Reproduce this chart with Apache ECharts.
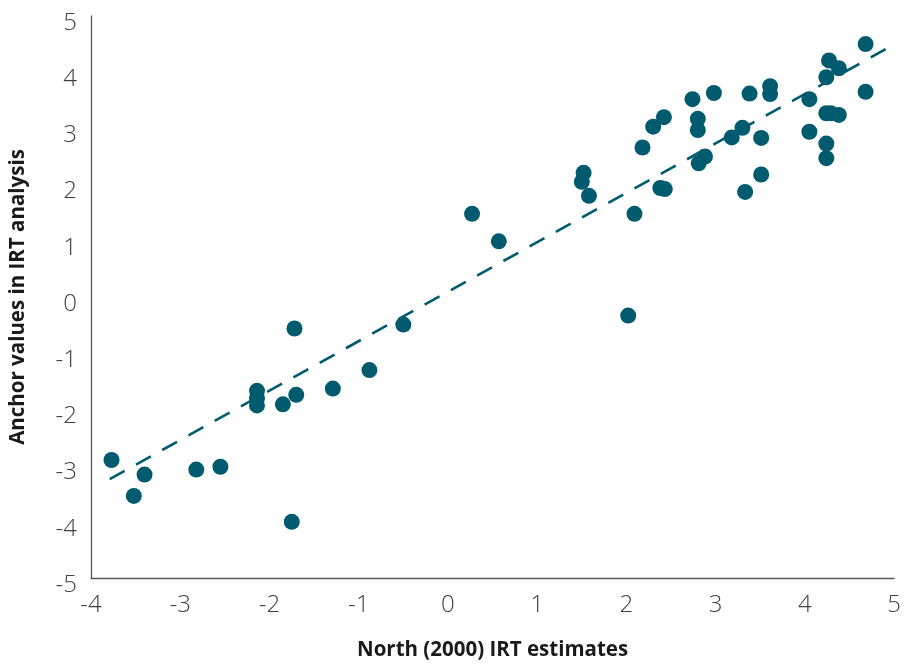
<!DOCTYPE html>
<html>
<head>
<meta charset="utf-8">
<script src="https://cdn.jsdelivr.net/npm/echarts@6/dist/echarts.min.js"></script>
<style>
  html, body { margin: 0; padding: 0; background: #ffffff; }
  #chart { width: 904px; height: 668px; }
</style>
</head>
<body>
<div id="chart"></div>
<script>
// North (2000) IRT estimates (x) against anchor values from the IRT analysis (y)
const northEstimates = [
  -3.77, -3.52, -3.40, -2.82, -2.55, -2.14, -2.14, -2.14, -1.85, -1.70,
  -1.72, -1.75, -1.29, -0.88, -0.50, 0.27, 0.57, 2.02, 2.09, 1.52,
  1.50, 1.58, 2.18, 2.30, 2.42, 2.38, 2.43, 2.74, 2.80, 2.80,
  2.98, 2.81, 2.88, 3.18, 3.30, 3.38, 3.33, 3.51, 3.51, 3.61,
  3.61, 4.05, 4.05, 4.24, 4.27, 4.38, 4.24, 4.29, 4.38, 4.24,
  4.24, 4.68, 4.68
];
const anchorValues = [
  -2.90, -3.54, -3.16, -3.07, -3.02, -1.67, -1.80, -1.93, -1.91, -1.74,
  -0.56, -4.00, -1.63, -1.30, -0.49, 1.48, 0.99, -0.33, 1.48, 2.21,
  2.05, 1.80, 2.66, 3.03, 3.20, 1.94, 1.92, 3.52, 3.17, 2.97,
  3.63, 2.38, 2.50, 2.84, 3.01, 3.62, 1.87, 2.83, 2.18, 3.75,
  3.61, 3.52, 2.94, 3.91, 4.21, 4.07, 3.27, 3.27, 3.24, 2.73,
  2.47, 4.50, 3.65
];

// Linear trend line end points
const trendX = [-3.79, 4.94];
const trendY = [-3.24, 4.44];

// Axis ranges and tick spacing
const xRange = [-4, 5];
const yRange = [-5, 5];
const tickStep = 1;

const dotColor = '#005b6e';
const points = northEstimates.map((x, i) => [x, anchorValues[i]]);
const trend = trendX.map((x, i) => [x, trendY[i]]);

const chart = echarts.init(document.getElementById('chart'), null, { renderer: 'canvas' });

const tickLabelStyle = {
  fontFamily: 'Open Sans',
  fontWeight: 300,
  fontSize: 24,
  color: '#404040'
};
const titleStyle = {
  fontFamily: 'Open Sans',
  fontWeight: 'bold',
  fontSize: 20.5,
  color: '#1a1a1a'
};

chart.setOption({
  animation: false,
  backgroundColor: '#ffffff',
  grid: { left: 91, right: 9, top: 16, bottom: 90, containLabel: false },
  xAxis: {
    type: 'value',
    min: xRange[0],
    max: xRange[1],
    interval: tickStep,
    name: 'North (2000) IRT estimates',
    nameLocation: 'middle',
    nameGap: 62,
    nameTextStyle: titleStyle,
    axisLine: { show: true, onZero: false, lineStyle: { color: '#595959', width: 1.3 } },
    axisTick: { show: false },
    splitLine: { show: false },
    axisLabel: Object.assign({ margin: 15 }, tickLabelStyle)
  },
  yAxis: {
    type: 'value',
    min: yRange[0],
    max: yRange[1],
    interval: tickStep,
    name: 'Anchor values in IRT analysis',
    nameLocation: 'middle',
    nameGap: 62,
    nameTextStyle: titleStyle,
    axisLine: { show: true, onZero: false, lineStyle: { color: '#595959', width: 1.3 } },
    axisTick: { show: false },
    splitLine: { show: false },
    axisLabel: Object.assign({ margin: 14, verticalAlign: 'top', lineHeight: 14 }, tickLabelStyle)
  },
  series: [
    {
      type: 'scatter',
      data: points,
      symbol: 'circle',
      symbolSize: 16,
      itemStyle: { color: dotColor, opacity: 1 },
      z: 2
    },
    {
      type: 'line',
      data: trend,
      symbol: 'none',
      lineStyle: { color: dotColor, width: 2.6, type: [17, 13] },
      z: 3
    }
  ]
});
</script>
</body>
</html>
